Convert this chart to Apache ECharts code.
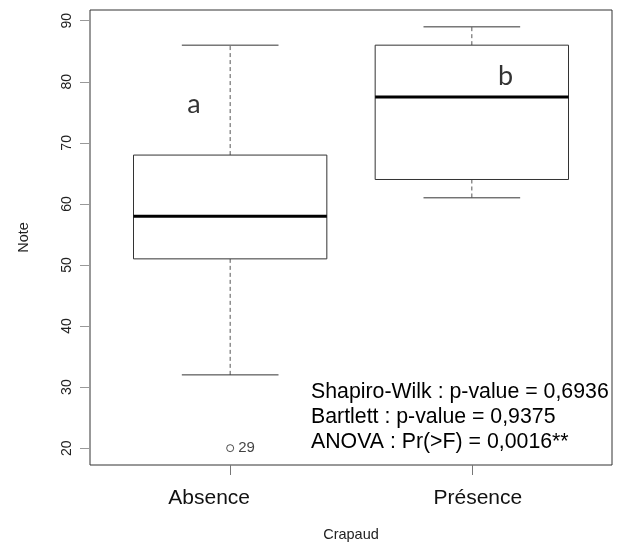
<!DOCTYPE html>
<html>
<head>
<meta charset="utf-8">
<script src="https://cdn.jsdelivr.net/npm/echarts@6/dist/echarts.min.js"></script>
<style>
  html, body { margin: 0; padding: 0; background: #fff; }
  #main { width: 622px; height: 543px; }
</style>
</head>
<body>
<div id="main"></div>
<script>
// groupes (axe x) et statistiques des boites : [min, Q1, mediane, Q3, max]
var categories = ['Absence', 'Présence'];
var boxStats = [
    [32, 51, 58, 68, 86],
    [61, 64, 77.5, 86, 89]
];
// valeurs aberrantes : [groupe, note, etiquette]
var outliers = [[1, 20, '29']];
// lettres de groupes : [x, y, lettre]
var letters = [[0.85, 76.3, 'a'], [2.14, 80.9, 'b']];
var yTicks = [20, 30, 40, 50, 60, 70, 80, 90];
var statLines = [
    'Shapiro-Wilk : p-value = 0,6936',
    'Bartlett : p-value = 0,9375',
    'ANOVA : Pr(>F) = 0,0016**'
];

var boxData = boxStats.map(function (s, i) {
    return [i + 1].concat(s);
});

var chart = echarts.init(document.getElementById('main'));

function renderBox(params, api) {
    var x = api.value(0);
    var w = api.size([0.8, 0])[0];
    var cap = api.size([0.4, 0])[0];
    var pLow = api.coord([x, api.value(1)]);
    var pQ1 = api.coord([x, api.value(2)]);
    var pMed = api.coord([x, api.value(3)]);
    var pQ3 = api.coord([x, api.value(4)]);
    var pHigh = api.coord([x, api.value(5)]);
    var cx = pMed[0];
    var thin = { stroke: '#333', lineWidth: 1, fill: null };
    var dash = { stroke: '#555', lineWidth: 1, lineDash: [4, 3] };
    return {
        type: 'group',
        children: [
            { type: 'line', shape: { x1: cx, y1: pQ3[1], x2: cx, y2: pHigh[1] }, style: dash },
            { type: 'line', shape: { x1: cx, y1: pQ1[1], x2: cx, y2: pLow[1] }, style: dash },
            { type: 'line', shape: { x1: cx - cap / 2, y1: pHigh[1], x2: cx + cap / 2, y2: pHigh[1] }, style: thin },
            { type: 'line', shape: { x1: cx - cap / 2, y1: pLow[1], x2: cx + cap / 2, y2: pLow[1] }, style: thin },
            { type: 'rect', shape: { x: cx - w / 2, y: pQ3[1], width: w, height: pQ1[1] - pQ3[1] },
              style: { stroke: '#333', lineWidth: 1, fill: '#fff' } },
            { type: 'line', shape: { x1: cx - w / 2, y1: pMed[1], x2: cx + w / 2, y2: pMed[1] },
              style: { stroke: '#000', lineWidth: 3 } }
        ]
    };
}

var catStyle = { fontFamily: 'Liberation Sans', fontSize: 21, color: '#111' };

var option = {
    animation: false,
    grid: {
        left: 90, right: 10, top: 10, bottom: 78,
        outerBoundsMode: 'none',
        containLabel: false,
        show: true, borderColor: '#333', borderWidth: 1, backgroundColor: 'transparent'
    },
    xAxis: {
        type: 'value',
        min: 0.42,
        max: 2.58,
        name: 'Crapaud',
        nameLocation: 'middle',
        nameGap: 62,
        nameTextStyle: { fontFamily: 'Liberation Sans', fontSize: 14.5, color: '#222' },
        splitLine: { show: false },
        axisLine: { show: false },
        axisTick: { show: true, length: 10, customValues: [1, 2], lineStyle: { color: '#777' } },
        axisLabel: {
            customValues: [1, 2],
            margin: 23,
            fontFamily: 'Liberation Sans',
            fontSize: 21,
            color: '#111',
            formatter: function (v) {
                var i = Math.round(v) - 1;
                return '{c' + i + '|' + categories[i] + '}';
            },
            rich: {
                c0: Object.assign({ padding: [0, 42, 0, 0] }, catStyle),
                c1: Object.assign({ padding: [0, 0, 0, 12] }, catStyle)
            }
        }
    },
    yAxis: {
        type: 'value',
        min: 17.24,
        max: 91.76,
        name: 'Note',
        nameLocation: 'middle',
        nameGap: 59,
        nameRotate: 90,
        nameTextStyle: { fontFamily: 'Liberation Sans', fontSize: 14.5, color: '#222' },
        splitLine: { show: false },
        axisLine: { show: false },
        axisTick: { show: true, length: 10, customValues: yTicks, lineStyle: { color: '#999' } },
        axisLabel: {
            customValues: yTicks,
            rotate: 90,
            margin: 16,
            fontFamily: 'Liberation Sans',
            fontSize: 14,
            color: '#222'
        }
    },
    series: [
        {
            type: 'custom',
            renderItem: renderBox,
            data: boxData,
            encode: { x: 0, y: [1, 2, 3, 4, 5] },
            silent: true
        },
        {
            type: 'scatter',
            symbol: 'circle',
            symbolSize: 7,
            itemStyle: { color: '#fff', borderColor: '#222', borderWidth: 1 },
            data: outliers.map(function (o) { return { value: [o[0], o[1]], name: o[2] }; }),
            label: {
                show: true,
                position: 'right',
                distance: 4,
                formatter: '{b}',
                fontFamily: 'Liberation Sans',
                fontSize: 15,
                color: '#111'
            }
        },
        {
            type: 'scatter',
            symbolSize: 0,
            data: letters.map(function (l) { return { value: [l[0], l[1]], name: l[2] }; }),
            label: {
                show: true,
                position: 'inside',
                formatter: '{b}',
                fontFamily: 'Lato',
                fontSize: 27,
                color: '#000'
            }
        }
    ],
    graphic: [
        {
            type: 'text',
            left: 311,
            top: 380,
            style: {
                text: statLines.join('\n'),
                font: '21.3px "Liberation Sans"',
                lineHeight: 25,
                fill: '#000'
            }
        },
        // bas du libelle "Absence" coupe comme sur l'original
        {
            type: 'rect',
            shape: { x: 150, y: 502, width: 150, height: 14 },
            style: { fill: '#fff' }
        }
    ]
};

chart.setOption(option);
</script>
</body>
</html>
